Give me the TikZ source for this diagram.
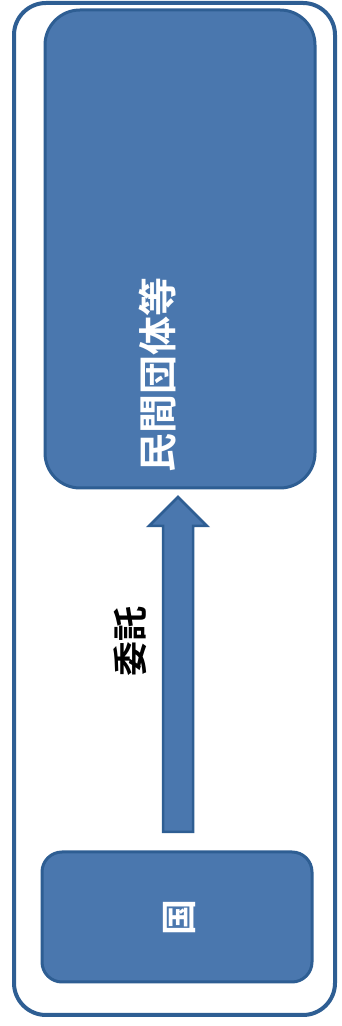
\documentclass[tikz,border=0pt]{standalone}
\usepackage{fontspec}
\usetikzlibrary{calc}
\newfontfamily\jpfont{Noto Sans CJK JP}
\newfontfamily\jpbold{Noto Sans CJK JP Bold}
\definecolor{boxfill}{HTML}{4A77AE}
\definecolor{boxline}{HTML}{2E5E93}
\begin{document}
\begin{tikzpicture}[x=1pt,y=1pt,
  bluebox/.style={draw=boxline, fill=boxfill, line width=3pt},
  outerbox/.style={draw=boxline, line width=4pt, rounded corners=32pt},
  boxtext/.style={text=white, font=\jpbold\fontsize{39}{39}\selectfont, rotate=90},
  labeltext/.style={text=black, font=\jpbold\fontsize{35}{35}\selectfont, rotate=90}]
\useasboundingbox (0,0) rectangle (342,1026);
\draw[outerbox] (14,11) rectangle (335,1023);
\draw[bluebox, rounded corners=35pt] (45,538) rectangle (315,1016);
\node[boxtext] (mkntext) at (158,651) {民間団体等};
\draw[bluebox, rounded corners=20pt] (42,44) rectangle (312,174);
\node[text=white, font=\jpbold\fontsize{36}{36}\selectfont, rotate=90] (kunitext) at (180,108) {国};
\coordinate (tail) at (178,194);
\coordinate (tip) at (178,529);
\draw[bluebox, line width=2.5pt, line join=miter]
  ($(tail)+(-15,0)$) -- ($(tip)+(-15,-29)$) -- ($(tip)+(-29,-29)$) -- (tip)
  -- ($(tip)+(29,-29)$) -- ($(tip)+(15,-29)$) -- ($(tail)+(15,0)$) -- cycle;
\node[labeltext] (itaku) at (130,384) {委託};
\end{tikzpicture}
\end{document}
